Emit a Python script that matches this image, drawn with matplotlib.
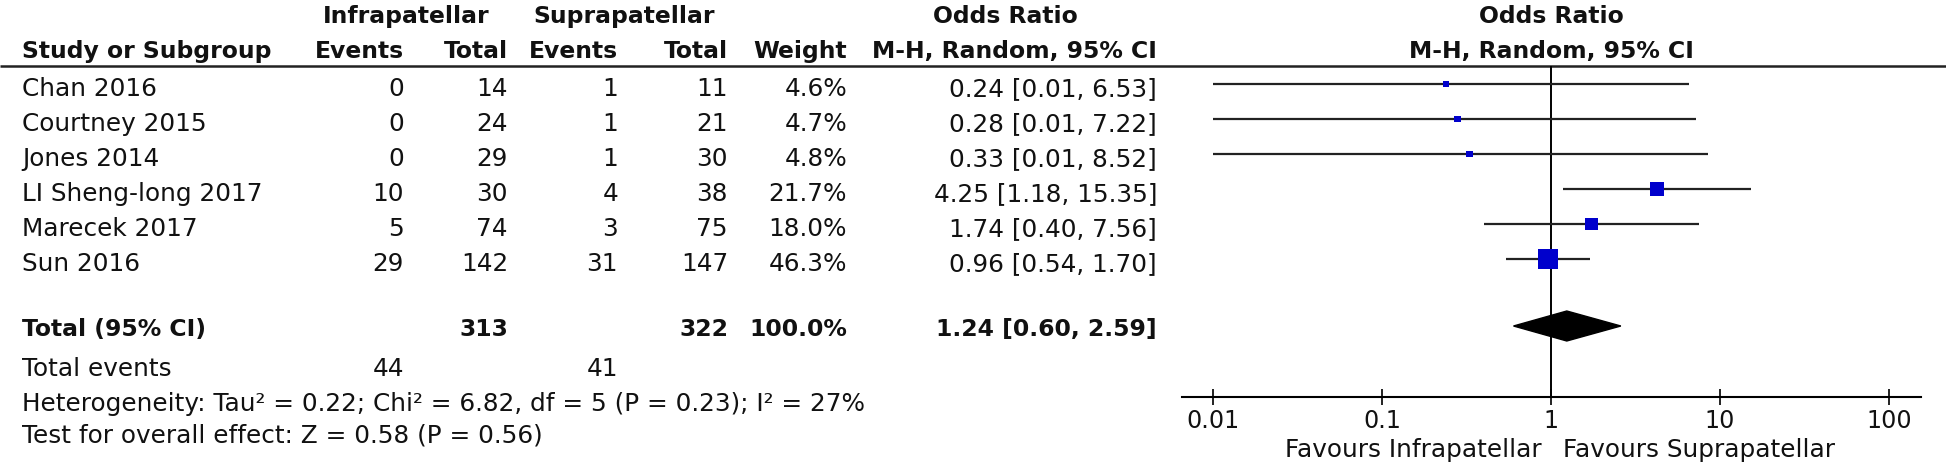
import numpy as np
import matplotlib
matplotlib.use("Agg")
import matplotlib.pyplot as plt

# study data
studies = ["Chan 2016", "Courtney 2015", "Jones 2014", "LI Sheng-long 2017",
           "Marecek 2017", "Sun 2016"]
infra_events = [0, 0, 0, 10, 5, 29]
infra_total = [14, 24, 29, 30, 74, 142]
supra_events = [1, 1, 1, 4, 3, 31]
supra_total = [11, 21, 30, 38, 75, 147]
weights = [4.6, 4.7, 4.8, 21.7, 18.0, 46.3]
odds = [0.24, 0.28, 0.33, 4.25, 1.74, 0.96]
ci_low = [0.01, 0.01, 0.01, 1.18, 0.40, 0.54]
ci_high = [6.53, 7.22, 8.52, 15.35, 7.56, 1.70]

total_or = [1.24, 0.60, 2.59]
total_n = [313, 322]
total_weight = 100.0
total_events = [44, 41]
xticks = [0.01, 0.1, 1, 10, 100]
xtick_labels = ["0.01", "0.1", "1", "10", "100"]

heterogeneity = "Heterogeneity: Tau² = 0.22; Chi² = 6.82, df = 5 (P = 0.23); I² = 27%"
overall = "Test for overall effect: Z = 0.58 (P = 0.56)"

plt.rcParams['font.family'] = ['DejaVu Sans']
W, H = 1946, 466
fs = 17.8    # regular text
fsb = 16.9   # bold text
fig = plt.figure(figsize=(W / 100, H / 100), dpi=100)

# table part, laid out in pixel units
tab = fig.add_axes([0, 0, 1, 1])
tab.set_xlim(0, W)
tab.set_ylim(H, 0)
tab.axis('off')

row_base = [96 + 35 * i for i in range(len(studies))]
row_mark = [84 + 35 * i for i in range(len(studies))]
cols = [404, 508, 618, 728, 847, 1157]

def txt(x, y, s, ha='left', bold=False, **kw):
    tab.text(x, y, s, ha=ha, va='baseline', fontsize=fsb if bold else fs,
             fontweight='bold' if bold else 'normal', color='#111111', **kw)

# headers
txt(323, 23, "Infrapatellar", bold=True)
txt(533, 23, "Suprapatellar", bold=True)
txt(1005, 23, "Odds Ratio", ha='center', bold=True)
txt(1551, 23, "Odds Ratio", ha='center', bold=True)
txt(22, 58, "Study or Subgroup", bold=True)
for x, s in zip(cols, ["Events", "Total", "Events", "Total", "Weight",
                       "M-H, Random, 95% CI"]):
    txt(x, 58, s, ha='right', bold=True)
txt(1551, 58, "M-H, Random, 95% CI", ha='center', bold=True)
tab.hlines(66, 0, W, color='#222222', lw=1.8)

for i, name in enumerate(studies):
    y = row_base[i]
    txt(22, y, name)
    vals = [str(infra_events[i]), str(infra_total[i]), str(supra_events[i]),
            str(supra_total[i]), f"{weights[i]:.1f}%",
            f"{odds[i]:.2f} [{ci_low[i]:.2f}, {ci_high[i]:.2f}]"]
    for x, s in zip(cols, vals):
        txt(x, y, s, ha='right')

# totals
txt(22, 336, "Total (95% CI)", bold=True)
txt(cols[1], 336, str(total_n[0]), ha='right', bold=True)
txt(cols[3], 336, str(total_n[1]), ha='right', bold=True)
txt(cols[4], 336, f"{total_weight:.1f}%", ha='right', bold=True)
txt(cols[5], 336, f"{total_or[0]:.2f} [{total_or[1]:.2f}, {total_or[2]:.2f}]",
    ha='right', bold=True)
txt(22, 376, "Total events")
txt(cols[0], 376, str(total_events[0]), ha='right')
txt(cols[2], 376, str(total_events[1]), ha='right')
txt(22, 411, heterogeneity)
txt(22, 443, overall)

# forest plot on a log axis
x0, x1, xone, dec = 1182, 1921, 1551, 169
lo = 10 ** ((x0 - xone) / dec)
hi = 10 ** ((x1 - xone) / dec)
ax = fig.add_axes([x0 / W, 0, (x1 - x0) / W, 1])
ax.set_xscale('log')
ax.set_xlim(lo, hi)
ax.set_ylim(H, 0)
ax.patch.set_alpha(0)
for s in ['top', 'left', 'right']:
    ax.spines[s].set_visible(False)
ax.spines['bottom'].set_position(('data', 397))
ax.spines['bottom'].set_linewidth(1.5)
ax.set_yticks([])
ax.set_xticks(xticks)
ax.set_xticklabels(xtick_labels)
ax.minorticks_off()
ax.tick_params(axis='x', direction='inout', length=12, width=1.3,
               labelsize=17.2, pad=3, colors='#111111')

ax.vlines(1, 66, 397, color='black', lw=1.4)
ax.hlines(row_mark, ci_low, ci_high, color='#222222', lw=1.6)
sizes = [(2.95 * np.sqrt(w) * 0.72) ** 2 for w in weights]
ax.scatter(odds, row_mark, s=sizes, marker='s', color='#0000CC', zorder=3,
           linewidths=0)
ax.fill([total_or[1], total_or[0], total_or[2], total_or[0]],
        [326, 311, 326, 341], color='black', zorder=3)

txt(1542, 457, "Favours Infrapatellar", ha='right')
txt(1563, 457, "Favours Suprapatellar")

fig.savefig("out.png", dpi=100)
